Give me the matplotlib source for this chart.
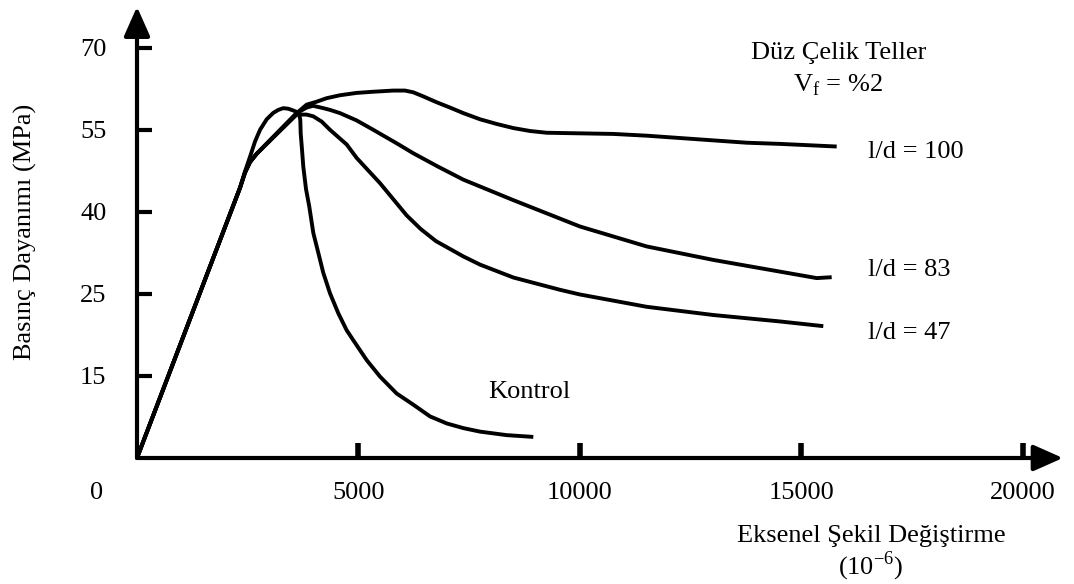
import matplotlib.pyplot as plt

plt.rcParams['font.family'] = ['Liberation Serif', 'DejaVu Serif']

# strain (10^-6) / stress on the chart's own vertical scale
kontrol_x = [0, 2325, 2438, 2551, 2664, 2777, 2928, 3077, 3190, 3303, 3415, 3528, 3619,
             3660, 3686, 3695, 3725, 3754, 3815, 3889, 3980, 4093, 4205, 4357, 4544,
             4733, 4882, 5185, 5485, 5862, 6237, 6614, 6991, 7366, 7743, 8345, 8946]
kontrol_y = [0, 46.1, 48.9, 51.4, 54.0, 56.0, 57.8, 58.9, 59.4, 59.7, 59.6, 59.3, 59.0,
             58.7, 57.7, 55.4, 52.6, 49.7, 45.9, 42.9, 38.4, 35.0, 31.6, 28.1, 24.7,
             21.8, 20.1, 16.7, 13.9, 11.0, 9.1, 7.1, 5.9, 5.1, 4.5, 3.9, 3.6]

ld100_x = [0, 2325, 2438, 2551, 2700, 3078, 3605, 3830, 4056, 4282, 4582, 4959, 5334,
           5786, 6050, 6237, 6463, 6765, 7065, 7366, 7743, 8119, 8495, 8871, 9248, 10000,
           10752, 11506, 12257, 13009, 13762, 14515, 15794]
ld100_y = [0, 46.1, 48.7, 50.5, 51.9, 54.8, 58.85, 60.3, 60.8, 61.4, 61.9, 62.3, 62.5,
           62.7, 62.7, 62.4, 61.7, 60.7, 59.8, 58.85, 57.8, 57.0, 56.3, 55.8, 55.5, 55.4,
           55.3, 55.0, 54.6, 54.2, 53.8, 53.6, 53.15]

ld83_x = [0, 2325, 2438, 2551, 2700, 3078, 3605, 3830, 3973, 4205, 4357, 4582, 4959,
          5334, 5862, 6237, 6800, 7366, 8495, 10000, 11506, 13009, 14515, 15343, 15681]
ld83_y = [0, 46.1, 48.7, 50.5, 51.9, 54.8, 58.85, 59.8, 60.1, 59.7, 59.4, 58.85, 57.6,
          56.0, 53.7, 52.0, 49.7, 47.5, 44.0, 39.5, 36.1, 33.8, 31.8, 30.7, 30.85]

ld47_x = [0, 2325, 2438, 2551, 2700, 3078, 3605, 3830, 3980, 4170, 4357, 4733, 4959,
          5485, 6087, 6400, 6750, 7366, 7743, 8495, 9549, 10000, 11506, 13009, 14515, 15492]
ld47_y = [0, 46.1, 48.7, 50.5, 51.9, 54.7, 58.6, 58.6, 58.3, 57.4, 56.0, 53.5, 51.2,
          46.9, 41.4, 39.1, 37.0, 34.4, 33.0, 30.8, 28.7, 27.9, 25.8, 24.4, 23.3, 22.5]

ytick_pos = [14, 28, 42, 56, 70]
ytick_labels = ['15', '25', '40', '55', '70']
xtick_pos = [5000, 10000, 15000, 20000]
xtick_labels = ['5000', '10000', '15000', '20000']

FS = 19

fig = plt.figure(figsize=(10.74, 5.84), dpi=100)
ax = fig.add_axes([137 / 1074, 126 / 584, 933 / 1074, 453 / 584])
ax.set_xlim(0, 21061)
ax.set_ylim(0, 77.3)

for xs, ys in [(kontrol_x, kontrol_y), (ld100_x, ld100_y), (ld83_x, ld83_y), (ld47_x, ld47_y)]:
    ax.plot(xs, ys, color='black', lw=2.8, solid_capstyle='butt', solid_joinstyle='round')

for s in ax.spines.values():
    s.set_visible(False)

arrow = dict(arrowstyle='-|>,head_length=0.9,head_width=0.4', lw=3, color='black',
             mutation_scale=20, shrinkA=0, shrinkB=0)
ax.annotate('', xy=(0, 77.0), xytext=(0, 0), arrowprops=arrow, annotation_clip=False)
ax.annotate('', xy=(20900, 0), xytext=(0, 0), arrowprops=arrow, annotation_clip=False)

ax.set_yticks(ytick_pos, ytick_labels)
ax.set_xticks(xtick_pos, xtick_labels)
ax.tick_params(axis='y', direction='in', length=11, width=3, pad=22, labelsize=FS)
ax.tick_params(axis='x', direction='in', length=11, width=4, pad=17, labelsize=FS)

ax.text(-40 / 0.0443, -35 / 5.857, '0', ha='center', va='center', fontsize=FS)

fig.text(25 / 1074, 1 - 232 / 584, 'Basınç Dayanımı (MPa)', rotation=90,
         ha='center', va='center', fontsize=FS)
fig.text(871 / 1074, 1 - 536 / 584, 'Eksenel Şekil Değiştirme', ha='center', va='center', fontsize=FS)
fig.text(871 / 1074, 1 - 566 / 584, r'(10$^{\mathregular{-6}}$)', ha='center', va='center', fontsize=FS)
fig.text(839 / 1074, 1 - 53 / 584, 'Düz Çelik Teller', ha='center', va='center', fontsize=FS)
fig.text(838 / 1074, 1 - 85 / 584, r'V$_{\mathregular{f}}$ = %2', ha='center', va='center', fontsize=FS)
fig.text(868 / 1074, 1 - 152 / 584, 'l/d = 100', ha='left', va='center', fontsize=FS)
fig.text(868 / 1074, 1 - 270 / 584, 'l/d = 83', ha='left', va='center', fontsize=FS)
fig.text(868 / 1074, 1 - 333 / 584, 'l/d = 47', ha='left', va='center', fontsize=FS)
fig.text(488 / 1074, 1 - 392 / 584, 'Kontrol', ha='left', va='center', fontsize=FS)

fig.savefig('out.png', dpi=100, facecolor='white')
